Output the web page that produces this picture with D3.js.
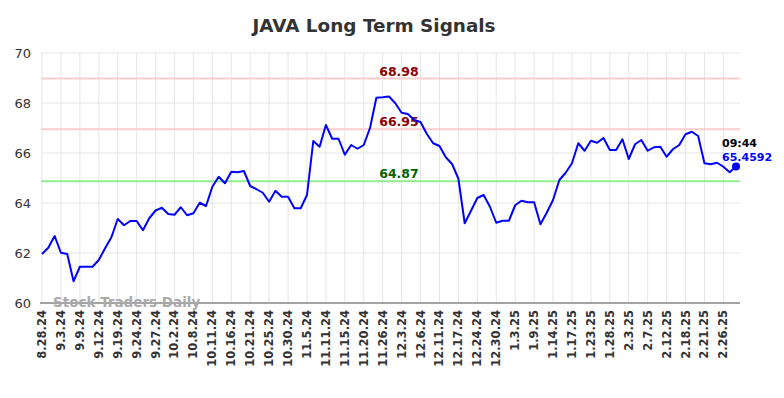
<!DOCTYPE html>
<html>
<head>
<meta charset="utf-8">
<script src="https://cdn.jsdelivr.net/npm/d3@7"></script>
<style>
  body { margin: 0; background: #fff; }
  svg { display: block; font-family: "DejaVu Sans", sans-serif; }
</style>
</head>
<body>
<svg id="chart"></svg>
<script>
// x-axis labels, one every 3 points
const tickLabels = [
  "8.28.24", "9.3.24", "9.9.24", "9.12.24", "9.19.24", "9.24.24", "9.27.24",
  "10.2.24", "10.8.24", "10.11.24", "10.16.24", "10.21.24", "10.25.24",
  "10.30.24", "11.5.24", "11.11.24", "11.15.24", "11.20.24", "11.26.24",
  "12.3.24", "12.6.24", "12.11.24", "12.17.24", "12.24.24", "12.30.24",
  "1.3.25", "1.9.25", "1.14.25", "1.17.25", "1.23.25", "1.28.25", "2.3.25",
  "2.7.25", "2.12.25", "2.18.25", "2.21.25", "2.26.25",
];

// price series
const prices = [
  61.96, 62.21, 62.68, 62.01, 61.96, 60.87, 61.45, 61.45, 61.45, 61.72,
  62.19, 62.63, 63.36, 63.11, 63.28, 63.28, 62.91, 63.39, 63.70, 63.81,
  63.56, 63.53, 63.83, 63.51, 63.59, 64.01, 63.88, 64.65, 65.05, 64.79,
  65.25, 65.23, 65.28, 64.68, 64.55, 64.41, 64.05, 64.49, 64.25, 64.25,
  63.79, 63.79, 64.32, 66.48, 66.25, 67.12, 66.57, 66.57, 65.93, 66.32,
  66.17, 66.32, 67.01, 68.21, 68.23, 68.26, 67.99, 67.61, 67.56, 67.32,
  67.24, 66.76, 66.39, 66.28, 65.83, 65.56, 64.97, 63.19, 63.69, 64.20,
  64.32, 63.85, 63.21, 63.29, 63.29, 63.91, 64.09, 64.03, 64.03, 63.15,
  63.61, 64.12, 64.92, 65.21, 65.59, 66.39, 66.09, 66.49, 66.41, 66.60,
  66.12, 66.12, 66.55, 65.76, 66.35, 66.52, 66.09, 66.23, 66.25, 65.85,
  66.15, 66.32, 66.75, 66.85, 66.68, 65.59, 65.55, 65.61, 65.45, 65.23,
  65.4592,
];

// signal levels
const levels = [68.98, 66.95, 64.87];
const levelColors = ["#ffcccc", "#ffcccc", "#90ee90"];
const levelTextColors = ["#8b0000", "#8b0000", "#006400"];

const yTicks = [60, 62, 64, 66, 68, 70];
const lastTime = "09:44";

const width = 784;
const height = 398;
const margin = { left: 41, right: 44, top: 53, bottom: 95 };

const svg = d3.select("#chart").attr("width", width).attr("height", height);

const x = d3.scaleLinear().domain([0, prices.length - 1]).range([42, 736]);
const y = d3.scaleLinear().domain([60, 70]).range([height - margin.bottom, margin.top]);

const plotLeft = margin.left;
const plotRight = width - margin.right;

// horizontal grid
svg.append("g")
  .selectAll("line")
  .data(yTicks)
  .enter()
  .append("line")
  .attr("x1", plotLeft)
  .attr("x2", plotRight)
  .attr("y1", (d) => y(d))
  .attr("y2", (d) => y(d))
  .attr("stroke", "#e6e6e6")
  .attr("stroke-width", 1);

// vertical grid at each labelled point
const tickIdx = tickLabels.map((d, i) => i * 3);
svg.append("g")
  .selectAll("line")
  .data(tickIdx)
  .enter()
  .append("line")
  .attr("x1", (d) => x(d))
  .attr("x2", (d) => x(d))
  .attr("y1", margin.top)
  .attr("y2", y(60))
  .attr("stroke", "#e6e6e6")
  .attr("stroke-width", 1);

// y axis labels
svg.append("g")
  .selectAll("text")
  .data(yTicks)
  .enter()
  .append("text")
  .attr("x", 31)
  .attr("y", (d) => y(d) + 4.5)
  .attr("text-anchor", "end")
  .attr("font-size", 13)
  .attr("fill", "#333")
  .text((d) => d);

// x axis labels, rotated
svg.append("g")
  .selectAll("text")
  .data(tickIdx)
  .enter()
  .append("text")
  .attr("transform", (d) => `translate(${x(d) + 4},310) rotate(-90)`)
  .attr("text-anchor", "end")
  .attr("font-size", 11.5)
  .attr("font-weight", "bold")
  .attr("fill", "#333")
  .text((d, i) => tickLabels[i]);

// signal lines
svg.append("g")
  .selectAll("line")
  .data(levels)
  .enter()
  .append("line")
  .attr("x1", plotLeft)
  .attr("x2", plotRight)
  .attr("y1", (d) => y(d))
  .attr("y2", (d) => y(d))
  .attr("stroke", (d, i) => levelColors[i])
  .attr("stroke-width", 2);

svg.append("g")
  .selectAll("text")
  .data(levels)
  .enter()
  .append("text")
  .attr("x", 399)
  .attr("y", (d) => y(d) - 3)
  .attr("text-anchor", "middle")
  .attr("font-size", 12.5)
  .attr("font-weight", "bold")
  .attr("fill", (d, i) => levelTextColors[i])
  .text((d) => d.toFixed(2));

// bottom axis line
svg.append("line")
  .attr("x1", 40)
  .attr("x2", plotRight)
  .attr("y1", y(60))
  .attr("y2", y(60))
  .attr("stroke", "#555")
  .attr("stroke-width", 1);

// watermark
svg.append("text")
  .attr("x", 53)
  .attr("y", 307)
  .attr("font-size", 13.5)
  .attr("font-weight", "bold")
  .attr("fill", "#aaa")
  .text("Stock Traders Daily");

// price line
const line = d3.line()
  .x((d, i) => x(i))
  .y((d) => y(d));

svg.append("path")
  .datum(prices)
  .attr("d", line)
  .attr("fill", "none")
  .attr("stroke", "#0000ff")
  .attr("stroke-width", 2)
  .attr("stroke-linejoin", "round");

// last point marker and labels
const lastI = prices.length - 1;
const lastV = prices[lastI];
svg.append("circle")
  .attr("cx", x(lastI))
  .attr("cy", y(lastV))
  .attr("r", 4)
  .attr("fill", "#0000ff");

svg.append("text")
  .attr("x", 722)
  .attr("y", 147)
  .attr("font-size", 11)
  .attr("font-weight", "bold")
  .attr("fill", "#000")
  .text(lastTime);

svg.append("text")
  .attr("x", 722)
  .attr("y", 161)
  .attr("font-size", 11)
  .attr("font-weight", "bold")
  .attr("fill", "#0000ff")
  .text(lastV.toFixed(4));

// title
svg.append("text")
  .attr("x", 374)
  .attr("y", 32)
  .attr("text-anchor", "middle")
  .attr("font-size", 18.4)
  .attr("font-weight", "bold")
  .attr("fill", "#333")
  .text("JAVA Long Term Signals");
</script>
</body>
</html>
